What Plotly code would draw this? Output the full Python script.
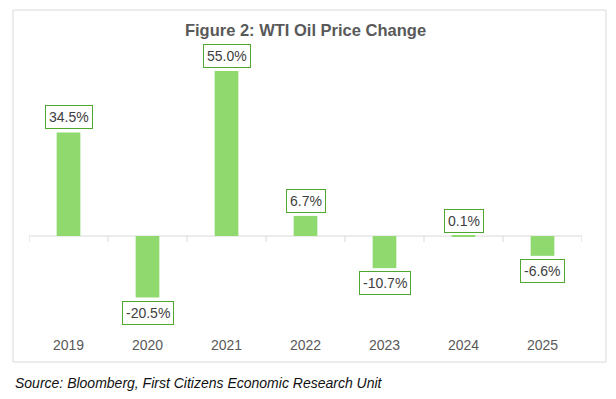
import plotly.graph_objects as go

years = ["2019", "2020", "2021", "2022", "2023", "2024", "2025"]
changes = [34.5, -20.5, 55.0, 6.7, -10.7, 0.1, -6.6]
labels = ["34.5%", "-20.5%", "55.0%", "6.7%", "-10.7%", "0.1%", "-6.6%"]

W, H = 616, 399
L, R, T, B = 29, 34, 55, 66
pw, ph = W - L - R, H - T - B

def px_x(p):
    return (p - L) / pw

def px_y(p):
    return (H - B - p) / ph

fig = go.Figure(go.Bar(x=years, y=changes, marker=dict(color="#8FD96F", line=dict(width=0)),
                       hoverinfo="x+y"))

ann = []
for i, (v, lab) in enumerate(zip(changes, labels)):
    ann.append(dict(x=i, y=v, text=lab, showarrow=False, xref="x", yref="y",
                    yanchor="bottom" if v >= 0 else "top", yshift=3 if v >= 0 else -3,
                    bgcolor="white", bordercolor="#4EA72E", borderwidth=1, borderpad=3,
                    font=dict(family="Liberation Sans, Arial", size=14, color="#404040")))
ann.append(dict(x=px_x(13), y=px_y(383), xref="paper", yref="paper", xanchor="left", yanchor="middle",
                showarrow=False, text="<i>Source: Bloomberg, First Citizens Economic Research Unit</i>",
                font=dict(family="Liberation Sans, Arial", size=14, color="#111111")))

shapes = [dict(type="rect", xref="paper", yref="paper", x0=px_x(13), x1=px_x(606), y0=px_y(362), y1=px_y(10),
               line=dict(color="#D9D9D9", width=1), fillcolor="rgba(0,0,0,0)", layer="below")]
shapes.append(dict(type="line", xref="x", yref="y", x0=-0.5, x1=len(years) - 0.5, y0=0, y1=0,
                   line=dict(color="#D9D9D9", width=1), layer="below"))
for i in range(len(years) + 1):
    shapes.append(dict(type="line", xref="x", yref="y", x0=i - 0.5, x1=i - 0.5, ysizemode="pixel",
                       yanchor=0, y0=0, y1=-6, line=dict(color="#D9D9D9", width=1)))

fig.update_layout(
    width=W, height=H, margin=dict(l=L, r=R, t=T, b=B),
    paper_bgcolor="white", plot_bgcolor="white",
    bargap=0.7, showlegend=False,
    title=dict(text="<b>Figure 2: WTI Oil Price Change</b>", x=0.5, xref="paper", xanchor="center",
               y=1 - 30 / H, yanchor="middle",
               font=dict(family="Liberation Sans, Arial", size=16.5, color="#595959")),
    xaxis=dict(type="category", showline=False, showgrid=False, ticks="", zeroline=False,
               ticklabelstandoff=2,
               tickfont=dict(family="Liberation Sans, Arial", size=14, color="#595959"),
               range=[-0.5, len(years) - 0.5]),
    yaxis=dict(range=[-32.3, 60.3], showgrid=False, zeroline=False, showticklabels=False, ticks=""),
    annotations=ann, shapes=shapes,
)

fig.write_html("out.html", config={"displayModeBar": False},
               post_script="document.body.style.margin='0';document.body.style.padding='0';")
